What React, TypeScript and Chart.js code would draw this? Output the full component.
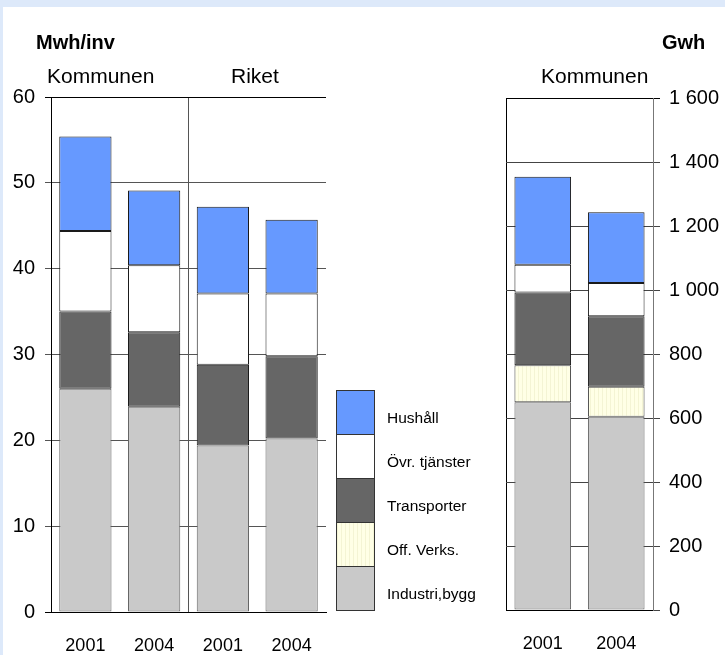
import React, { useEffect, useRef } from "react";
import { Chart, registerables } from "chart.js";

Chart.register(...registerables);

// ---- Data ----
const leftCategories = ["2001", "2004", "2001", "2004"];
const rightCategories = ["2001", "2004"];
const seriesNames = ["Industri,bygg", "Off. Verks.", "Transporter", "Övr. tjänster", "Hushåll"];

// Left chart (Mwh/inv): Kommunen 2001, 2004, Riket 2001, 2004
const leftIndustri = [26.0, 23.9, 19.4, 20.2];
const leftOff = [0, 0, 0, 0];
const leftTransport = [9.0, 8.7, 9.4, 9.6];
const leftOvr = [9.4, 7.8, 8.3, 7.3];
const leftHushall = [11.0, 8.7, 10.1, 8.6];

// Right chart (Gwh): Kommunen 2001, 2004
const rightIndustri = [649, 604];
const rightOff = [116, 94];
const rightTransport = [227, 220];
const rightOvr = [87, 104];
const rightHushall = [275, 221];

const leftTitle = "Mwh/inv";
const rightTitle = "Gwh";
const leftGroupLabels = ["Kommunen", "Riket"];
const rightGroupLabel = "Kommunen";
const legendOrder = ["Hushåll", "Övr. tjänster", "Transporter", "Off. Verks.", "Industri,bygg"];

const FONT = "'Liberation Sans', Arial, Helvetica, sans-serif";
const COL_BLUE = "#6699ff";
const COL_WHITE = "#ffffff";
const COL_DARK = "#666666";
const COL_YELLOW = "#ffffe6";
const COL_GREY = "#c9c9c9";

function makeStripePattern(): CanvasPattern | string {
  const c = document.createElement("canvas");
  c.width = 4;
  c.height = 4;
  const g = c.getContext("2d");
  if (!g) return COL_YELLOW;
  g.fillStyle = COL_YELLOW;
  g.fillRect(0, 0, 4, 4);
  g.fillStyle = "#f4f4d4";
  g.fillRect(0, 0, 1, 4);
  return g.createPattern(c, "repeat") || COL_YELLOW;
}

function buildDatasets(values: number[][], pattern: CanvasPattern | string, barPct: number) {
  const colors = [COL_GREY, pattern, COL_DARK, COL_WHITE, COL_BLUE];
  const borders = ["#666666", "#444444", "#1a1a1a", "#1a1a1a", "#1a1a1a"];
  return values.map((v, i) => ({
    label: seriesNames[i],
    data: v,
    backgroundColor: colors[i] as any,
    borderColor: borders[i],
    borderWidth: 1,
    borderSkipped: false as const,
    barPercentage: barPct,
    categoryPercentage: 1,
  }));
}

function fmtThousands(v: number): string {
  if (v >= 1000) {
    const th = Math.floor(v / 1000);
    const rest = String(v % 1000).padStart(3, "0");
    return th + " " + rest;
  }
  return String(v);
}

export default function App() {
  const leftRef = useRef<HTMLCanvasElement>(null);
  const rightRef = useRef<HTMLCanvasElement>(null);

  useEffect(() => {
    const pattern = makeStripePattern();
    const charts: Chart[] = [];

    if (leftRef.current) {
      charts.push(
        new Chart(leftRef.current, {
          type: "bar",
          data: {
            labels: leftCategories,
            datasets: buildDatasets([leftIndustri, leftOff, leftTransport, leftOvr, leftHushall], pattern, 0.76) as any,
          },
          options: {
            animation: false,
            responsive: false,
            layout: { padding: { top: 97, right: 14, left: 0, bottom: 0 } },
            plugins: { legend: { display: false }, tooltip: { enabled: false }, title: { display: false } },
            scales: {
              x: {
                stacked: true,
                offset: true,
                grid: {
                  offset: true,
                  drawTicks: false,
                  lineWidth: 1,
                  color: (ctx: any) => (ctx.index === 2 ? "#555555" : ctx.index === 4 ? "#000000" : "rgba(0,0,0,0)"),
                },
                border: { display: true, color: "#000000", width: 1 },
                ticks: { color: "#000000", font: { family: FONT, size: 18 }, padding: 23, maxRotation: 0, autoSkip: false },
                afterFit: (scale: any) => {
                  scale.height = 43;
                },
              },
              y: {
                stacked: true,
                min: 0,
                max: 60,
                grid: {
                  drawTicks: true,
                  tickLength: 6,
                  lineWidth: 1,
                  color: (ctx: any) => (ctx.tick && (ctx.tick.value === 60 || ctx.tick.value === 0) ? "#000000" : "#555555"),
                },
                border: { display: true, color: "#000000", width: 1 },
                ticks: { stepSize: 10, color: "#000000", font: { family: FONT, size: 20 }, padding: 10 },
                afterFit: (scale: any) => {
                  scale.width = 51;
                },
              },
            },
          },
        })
      );
    }

    if (rightRef.current) {
      charts.push(
        new Chart(rightRef.current, {
          type: "bar",
          data: {
            labels: rightCategories,
            datasets: buildDatasets([rightIndustri, rightOff, rightTransport, rightOvr, rightHushall], pattern, 0.77) as any,
          },
          options: {
            animation: false,
            responsive: false,
            layout: { padding: { top: 98, right: 0, left: 16, bottom: 0 } },
            plugins: { legend: { display: false }, tooltip: { enabled: false }, title: { display: false } },
            scales: {
              x: {
                stacked: true,
                offset: true,
                grid: {
                  offset: true,
                  drawTicks: false,
                  lineWidth: 1,
                  color: (ctx: any) => (ctx.index === 0 ? "#000000" : "rgba(0,0,0,0)"),
                },
                border: { display: true, color: "#000000", width: 1 },
                ticks: { color: "#000000", font: { family: FONT, size: 18 }, padding: 23, maxRotation: 0, autoSkip: false },
                afterFit: (scale: any) => {
                  scale.height = 45;
                },
              },
              y: {
                stacked: true,
                position: "right",
                min: 0,
                max: 1600,
                grid: {
                  drawTicks: true,
                  tickLength: 7,
                  lineWidth: 1,
                  color: (ctx: any) => (ctx.tick && ctx.tick.value === 1600 ? "#000000" : "#444444"),
                },
                border: { display: true, color: "#777777", width: 1 },
                ticks: {
                  stepSize: 200,
                  color: "#000000",
                  font: { family: FONT, size: 20 },
                  padding: 9,
                  callback: (v: any) => fmtThousands(Number(v)),
                },
                afterFit: (scale: any) => {
                  scale.width = 72;
                },
              },
            },
          },
        })
      );
    }

    return () => {
      charts.forEach((c) => c.destroy());
    };
  }, []);

  const legendColors: Record<string, string> = {
    "Hushåll": COL_BLUE,
    "Övr. tjänster": COL_WHITE,
    "Transporter": COL_DARK,
    "Off. Verks.": COL_YELLOW,
    "Industri,bygg": COL_GREY,
  };

  const boxH = 44;
  const legendTop = 390;

  const textStyle: React.CSSProperties = {
    position: "absolute",
    fontFamily: FONT,
    color: "#000",
    lineHeight: 1,
    whiteSpace: "nowrap",
  };

  return (
    <div
      style={{
        position: "absolute",
        left: 0,
        top: 0,
        width: 725,
        height: 655,
        background: "#dde9fa",
        overflow: "hidden",
      }}
    >
      <div style={{ position: "absolute", left: 3, top: 7, width: 722, height: 648, background: "#ffffff" }} />
      <canvas ref={leftRef} width={340} height={655} style={{ position: "absolute", left: 0, top: 0, width: 340, height: 655 }} />
      <canvas ref={rightRef} width={235} height={655} style={{ position: "absolute", left: 490, top: 0, width: 235, height: 655 }} />

      <div style={{ ...textStyle, left: 36, top: 32, fontSize: 20, fontWeight: "bold" }}>{leftTitle}</div>
      <div style={{ ...textStyle, left: 662, top: 32, fontSize: 20, fontWeight: "bold" }}>{rightTitle}</div>
      <div style={{ ...textStyle, left: 47, top: 65, fontSize: 21 }}>{leftGroupLabels[0]}</div>
      <div style={{ ...textStyle, left: 231, top: 65, fontSize: 21 }}>{leftGroupLabels[1]}</div>
      <div style={{ ...textStyle, left: 541, top: 65, fontSize: 21 }}>{rightGroupLabel}</div>

      {legendOrder.map((name, i) => (
        <React.Fragment key={name}>
          <div
            style={{
              position: "absolute",
              left: 336,
              top: legendTop + i * boxH,
              width: 39,
              height: boxH + 1,
              boxSizing: "border-box",
              border: "1px solid #333",
              background:
                name === "Off. Verks."
                  ? "repeating-linear-gradient(90deg, #f4f4d4 0px, #f4f4d4 1px, #ffffe6 1px, #ffffe6 4px)"
                  : legendColors[name],
            }}
          />
          <div
            style={{
              ...textStyle,
              left: 387,
              top: legendTop + i * boxH + boxH / 2 + 6 - 8,
              fontSize: 15.5,
            }}
          >
            {name}
          </div>
        </React.Fragment>
      ))}
    </div>
  );
}
